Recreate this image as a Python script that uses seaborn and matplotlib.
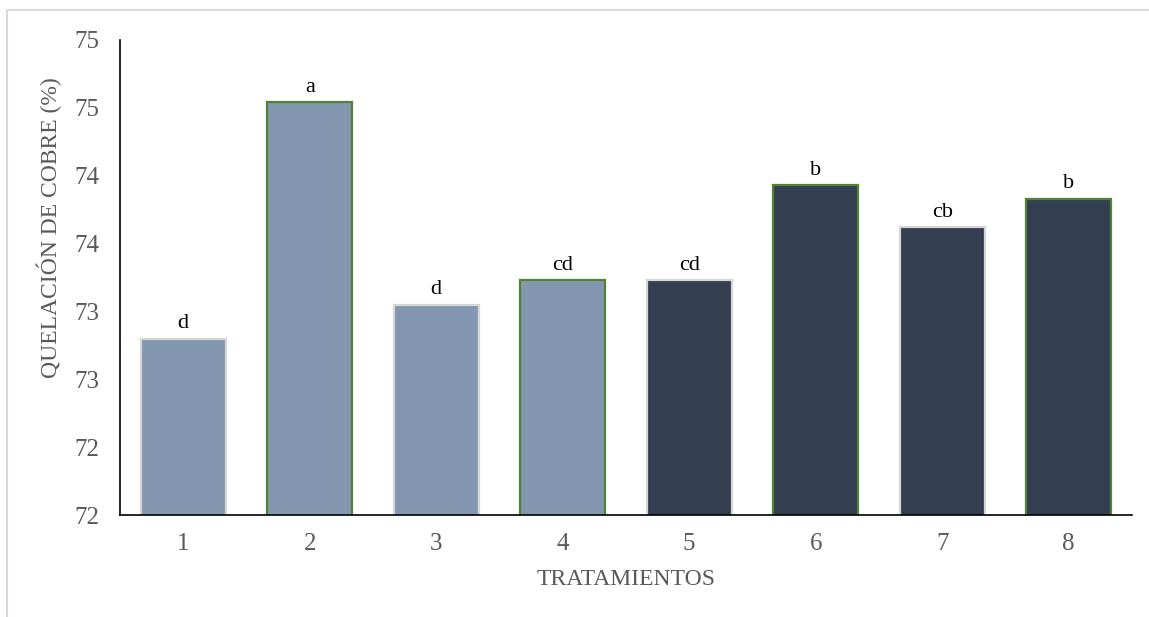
import matplotlib
matplotlib.use("Agg")
import matplotlib.pyplot as plt
from matplotlib.lines import Line2D
import seaborn as sns
import pandas as pd

# Datos
tratamientos = ["1", "2", "3", "4", "5", "6", "7", "8"]
quelacion = [72.80, 74.54, 73.05, 73.23, 73.23, 73.93, 73.62, 73.83]
letras = ["d", "a", "d", "cd", "cd", "b", "cb", "b"]
grupo = ["A", "A", "A", "A", "B", "B", "B", "B"]
y_ticks = [71.5, 72.0, 72.5, 73.0, 73.5, 74.0, 74.5, 75.0]
y_tick_labels = ["72", "72", "73", "73", "74", "74", "75", "75"]

fill_colors = {"A": "#8497B0", "B": "#333F50"}
edge_colors = ["#D6D6D6", "#548235"]

sns.set_theme(style="white")
plt.rcParams["font.family"] = ["Liberation Serif", "DejaVu Serif"]

df = pd.DataFrame({"Tratamiento": tratamientos, "Quelacion": quelacion, "Grupo": grupo})

fig = plt.figure(figsize=(11.49, 6.17), dpi=100)
ax = fig.add_axes([0.1044, 0.1653, 0.8808, 0.7699])

sns.barplot(data=df, x="Tratamiento", y="Quelacion", hue="Grupo",
            palette=fill_colors, saturation=1, dodge=False, width=0.67,
            legend=False, ax=ax)

bars = [p for p in ax.patches if p.get_height() > 0]
bars.sort(key=lambda p: p.get_x())
for i, (bar, txt) in enumerate(zip(bars, letras)):
    bar.set_edgecolor(edge_colors[i % 2])
    bar.set_linewidth(1.6)
    ax.text(bar.get_x() + bar.get_width() / 2, bar.get_height() + 0.04, txt,
            ha="center", va="bottom", fontsize=16, color="black")

ax.set_ylim(71.5, 75.0)
ax.set_xlim(-0.5, 7.5)
ax.set_yticks(y_ticks)
ax.set_yticklabels(y_tick_labels)
ax.tick_params(axis="both", labelsize=18, colors="#595959", length=0)
ax.tick_params(axis="x", pad=13)
ax.tick_params(axis="y", pad=15)

ax.set_xlabel("TRATAMIENTOS", fontsize=17, color="#595959", labelpad=10)
ax.set_ylabel("QUELACIÓN DE COBRE (%)", fontsize=17, color="#595959")
ax.yaxis.set_label_coords(-0.0573, 0.604)

sns.despine(ax=ax)
for side in ["left", "bottom"]:
    ax.spines[side].set_color("black")
    ax.spines[side].set_linewidth(1.2)

# marco del grafico (solo borde superior e izquierdo visibles)
fig.add_artist(Line2D([0.006, 1.0], [0.984, 0.984], transform=fig.transFigure,
                      color="#D9D9D9", linewidth=1.5))
fig.add_artist(Line2D([0.006, 0.006], [0.0, 0.984], transform=fig.transFigure,
                      color="#D9D9D9", linewidth=1.5))

fig.savefig("out.png", dpi=100)
